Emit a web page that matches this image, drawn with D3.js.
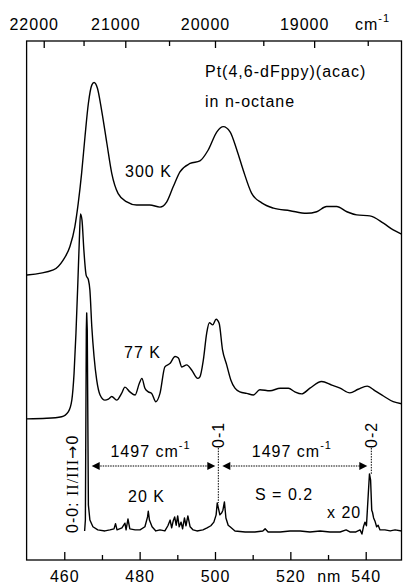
<!DOCTYPE html>
<html>
<head>
<meta charset="utf-8">
<script src="https://cdn.jsdelivr.net/npm/d3@7"></script>
<style>
  body { margin: 0; background: #fff; }
  svg text { font-family: "Liberation Sans", Arial, sans-serif; font-size: 16px; letter-spacing: 1px; fill: #000; }
</style>
</head>
<body>
<svg id="chart" width="403" height="586"></svg>
<script>
// Emission spectra of Pt(4,6-dFppy)(acac) in n-octane, stacked (arbitrary units incl. offset)
const wavelength300 = [450.1, 457.1, 459.7, 461.5, 462.8, 463.7, 464.6, 465.5, 466.4, 467.3, 467.9, 468.8, 469.9, 471.3, 472.6, 474.3, 476.6, 479.2, 482.7, 485.4, 487.2, 488.9, 490.7, 493.4, 496.0, 498.2, 500.5, 502.2, 504.0, 505.8, 507.5, 509.7, 512.4, 515.5, 519.9, 524.3, 527.0, 529.6, 532.3, 535.0, 537.6, 541.1, 544.7, 547.3, 549.5];
const intensity300  = [54.9, 55.9, 57.8, 60.4, 64.2, 68.7, 74.5, 81.6, 88.0, 91.5, 92.0, 90.9, 86.7, 80.3, 74.5, 70.6, 69.0, 68.4, 68.4, 68.0, 69.0, 71.9, 74.8, 76.4, 76.9, 79.0, 82.5, 83.5, 82.5, 79.0, 75.1, 70.7, 68.8, 67.8, 67.3, 66.8, 67.1, 68.1, 68.1, 67.1, 66.5, 66.3, 64.9, 63.6, 62.8];

const wavelength77 = [450.1, 455.3, 459.3, 461.1, 462.0, 462.6, 463.1, 463.6, 464.0, 464.3, 464.7, 465.2, 465.8, 466.4, 466.8, 467.3, 467.9, 468.6, 469.5, 470.8, 471.7, 472.6, 473.9, 475.2, 476.1, 477.4, 478.8, 479.9, 480.6, 481.4, 482.3, 483.2, 484.3, 485.4, 486.7, 488.1, 489.4, 490.3, 491.2, 492.5, 493.8, 495.4, 496.0, 496.9, 497.8, 498.5, 499.4, 500.3, 501.1, 502.0, 503.1, 504.2, 505.3, 506.6, 508.4, 510.2, 511.9, 514.6, 517.3, 519.5, 521.2, 523.0, 525.2, 528.3, 531.0, 533.2, 535.8, 538.0, 540.4, 542.5, 544.7, 547.3, 549.5];
const intensity77  = [27.2, 27.3, 27.6, 28.6, 30.8, 36.0, 43.7, 53.4, 61.7, 66.7, 65.5, 59.7, 54.9, 54.0, 52.0, 45.0, 39.2, 34.7, 31.8, 30.8, 31.0, 31.5, 30.8, 32.1, 33.3, 32.4, 31.8, 34.0, 35.0, 33.1, 32.4, 32.1, 30.5, 32.1, 37.2, 37.9, 39.2, 38.9, 37.2, 37.6, 36.6, 35.0, 35.3, 38.5, 43.7, 45.7, 45.3, 46.4, 45.6, 40.5, 37.6, 34.7, 33.1, 32.4, 32.1, 31.8, 32.8, 32.6, 33.1, 33.1, 32.4, 32.0, 33.1, 34.4, 33.7, 33.1, 32.2, 32.9, 33.5, 32.6, 31.6, 30.5, 30.1];

const wavelength20 = [465.4, 465.6, 465.85, 465.95, 466.1, 466.4, 466.8, 467.6, 468.9, 470.8, 472.1, 473.2, 473.6, 474.0, 475.3, 476.1, 476.4, 476.9, 477.4, 478.8, 480.1, 481.4, 482.1, 482.3, 482.6, 483.3, 484.3, 485.4, 486.7, 487.5, 488.1, 488.5, 488.9, 489.3, 489.7, 490.1, 490.5, 491.0, 491.4, 491.9, 492.3, 492.8, 493.4, 494.2, 495.2, 496.8, 497.9, 498.9, 499.7, 500.3, 500.6, 500.9, 501.3, 501.8, 502.1, 502.5, 502.9, 503.5, 504.0, 505.3, 508.0, 510.6, 512.7, 513.3, 514.1, 517.3, 519.9, 522.6, 525.2, 527.9, 530.5, 533.2, 534.8, 535.8, 537.4, 538.5, 539.0, 539.4, 539.8, 540.2, 540.7, 541.0, 541.3, 541.6, 541.8, 542.1, 542.5, 542.9, 543.3, 543.8, 545.1, 546.5, 547.8, 549.5];
const intensity20  = [5.6, 7.7, 44.3, 47.6, 44.3, 10.6, 7.7, 6.4, 5.8, 5.6, 5.8, 6.0, 7.0, 5.8, 6.2, 7.1, 5.8, 7.9, 6.0, 5.8, 5.8, 6.4, 8.3, 9.4, 7.7, 6.4, 5.6, 5.8, 5.6, 6.6, 7.7, 6.2, 7.5, 8.3, 6.7, 8.5, 6.4, 7.3, 6.0, 8.1, 6.6, 8.5, 6.4, 5.8, 5.6, 5.8, 6.2, 6.6, 7.3, 8.7, 11.0, 10.0, 8.7, 9.1, 9.6, 11.2, 8.1, 6.7, 6.4, 5.6, 5.4, 5.4, 5.6, 6.0, 5.4, 5.4, 5.6, 5.6, 5.4, 5.6, 5.4, 5.4, 5.8, 5.4, 5.4, 5.8, 5.0, 6.4, 7.3, 6.6, 12.9, 16.6, 15.4, 9.6, 9.2, 8.1, 7.4, 6.4, 6.7, 5.8, 5.8, 5.6, 5.8, 5.6];

// Axis ticks
const nmTicks = [460, 480, 500, 520, 540];
const nmMinorTicks = [470, 490, 510, 530];
const waveTicks = [22000, 21000, 20000, 19000];
const waveMinorTicks = [21500, 20500, 19500, 18500];

// Vibronic progression at 20 K
const origin00 = 465.95;      // nm, 0-0 transition
const vibSpacing = 1497;      // cm-1

const svg = d3.select("#chart");
const x = d3.scaleLinear().domain([450, 549.5]).range([26.6, 401.5]);
const y = d3.scaleLinear().domain([0, 100]).range([560, 41]);
const toNm = k => 1e7 / k;

// plot frame
svg.append("rect")
  .attr("x", x(450)).attr("y", y(100))
  .attr("width", x(549.5) - x(450)).attr("height", y(0) - y(100))
  .attr("fill", "none").attr("stroke", "#000").attr("stroke-width", 1.3);

// bottom wavelength axis (ticks pointing inward)
const gB = svg.append("g").attr("transform", `translate(0,${y(0)})`);
gB.call(d3.axisBottom(x).tickValues(nmTicks).tickSize(-8).tickPadding(11));
svg.append("g").attr("transform", `translate(0,${y(0)})`)
  .call(d3.axisBottom(x).tickValues(nmMinorTicks).tickSize(-5).tickFormat(""));
// top wavenumber axis
const gT = svg.append("g").attr("transform", `translate(0,${y(100)})`);
gT.call(d3.axisTop(x).tickValues(waveTicks.map(toNm)).tickSize(-7).tickPadding(11)
  .tickFormat((d, i) => waveTicks[i]));
svg.append("g").attr("transform", `translate(0,${y(100)})`)
  .call(d3.axisTop(x).tickValues(waveMinorTicks.map(toNm)).tickSize(-5).tickFormat(""));

svg.selectAll(".domain").remove();
svg.selectAll(".tick line").attr("stroke", "#000").attr("stroke-width", 1.3);
svg.selectAll(".tick text").attr("font-family", null).attr("font-size", null).attr("fill", "#000");
gT.selectAll(".tick text").attr("dx", -10);

// axis units
svg.append("text").attr("x", x(520) + 39).attr("y", 582).attr("text-anchor", "middle").text("nm");
const cm = svg.append("text").attr("x", 355).attr("y", 30);
cm.append("tspan").text("cm");
cm.append("tspan").attr("dy", -8).attr("font-size", 11).text("-1");

// spectra
const line = d3.line().x(d => x(d[0])).y(d => y(d[1]));
const spectra = [
  { w: wavelength300, v: intensity300, curve: d3.curveMonotoneX },
  { w: wavelength77, v: intensity77, curve: d3.curveMonotoneX },
  { w: wavelength20, v: intensity20, curve: d3.curveLinear }
];
spectra.forEach(s => {
  svg.append("path")
    .datum(d3.zip(s.w, s.v))
    .attr("d", line.curve(s.curve))
    .attr("fill", "none").attr("stroke", "#000").attr("stroke-width", 1.4)
    .attr("stroke-linejoin", "round");
});

// labels
svg.append("text").attr("x", 205).attr("y", 77).text("Pt(4,6-dFppy)(acac)");
svg.append("text").attr("x", 205).attr("y", 107).text("in n-octane");
svg.append("text").attr("x", 125).attr("y", 177).text("300 K");
svg.append("text").attr("x", 124).attr("y", 358).text("77 K");
svg.append("text").attr("x", 128).attr("y", 502).text("20 K");
svg.append("text").attr("x", 255).attr("y", 500).text("S = 0.2");
svg.append("text").attr("x", 327).attr("y", 518).text("x 20");

// vibronic satellites
const k00 = 1e7 / origin00;
const nm01 = toNm(k00 - vibSpacing);
const nm02 = toNm(k00 - 2 * vibSpacing);
const peakNear = c => d3.max(d3.zip(wavelength20, intensity20).filter(d => Math.abs(d[0] - c) < 1.2), d => d[1]);

const arrowY = 466;
[[nm01, "0-1"], [nm02, "0-2"]].forEach(([c, lbl]) => {
  svg.append("line")
    .attr("x1", x(c)).attr("x2", x(c))
    .attr("y1", 448).attr("y2", y(peakNear(c)))
    .attr("stroke", "#000").attr("stroke-width", 1).attr("stroke-dasharray", "1.5,1.2");
  svg.append("text")
    .attr("transform", `translate(${x(c) + 6},448) rotate(-90)`)
    .text(lbl);
});

svg.append("text")
  .attr("transform", `translate(78,533) rotate(-90)`)
  .call(t => {
    t.append("tspan").text("0-0: ");
    t.append("tspan").attr("font-family", "'Liberation Serif', 'Times New Roman', serif").text("II/III");
    t.append("tspan").attr("font-family", "'DejaVu Sans', sans-serif").attr("font-size", 16).text("\u2192");
    t.append("tspan").text("0");
  });

const arrowHead = (xTip, dir) => {
  const L = 8, H = 4;
  return `M${xTip},${arrowY} L${xTip - dir * L},${arrowY - H} L${xTip - dir * L},${arrowY + H} Z`;
};
const spans = [
  [x(origin00) + 5, x(nm01) - 3],
  [x(nm01) + 4, x(nm02) - 4]
];
spans.forEach(([a, b]) => {
  svg.append("line").attr("x1", a + 6).attr("x2", b - 6).attr("y1", arrowY).attr("y2", arrowY)
    .attr("stroke", "#000").attr("stroke-width", 1.2).attr("stroke-dasharray", "1.5,1");
  svg.append("path").attr("d", arrowHead(a, -1)).attr("fill", "#000");
  svg.append("path").attr("d", arrowHead(b, 1)).attr("fill", "#000");
  const t = svg.append("text").attr("x", (a + b) / 2 - 3).attr("y", 457).attr("text-anchor", "middle");
  t.append("tspan").text(vibSpacing + " cm");
  t.append("tspan").attr("dy", -8).attr("font-size", 11).text("-1");
});
</script>
</body>
</html>
